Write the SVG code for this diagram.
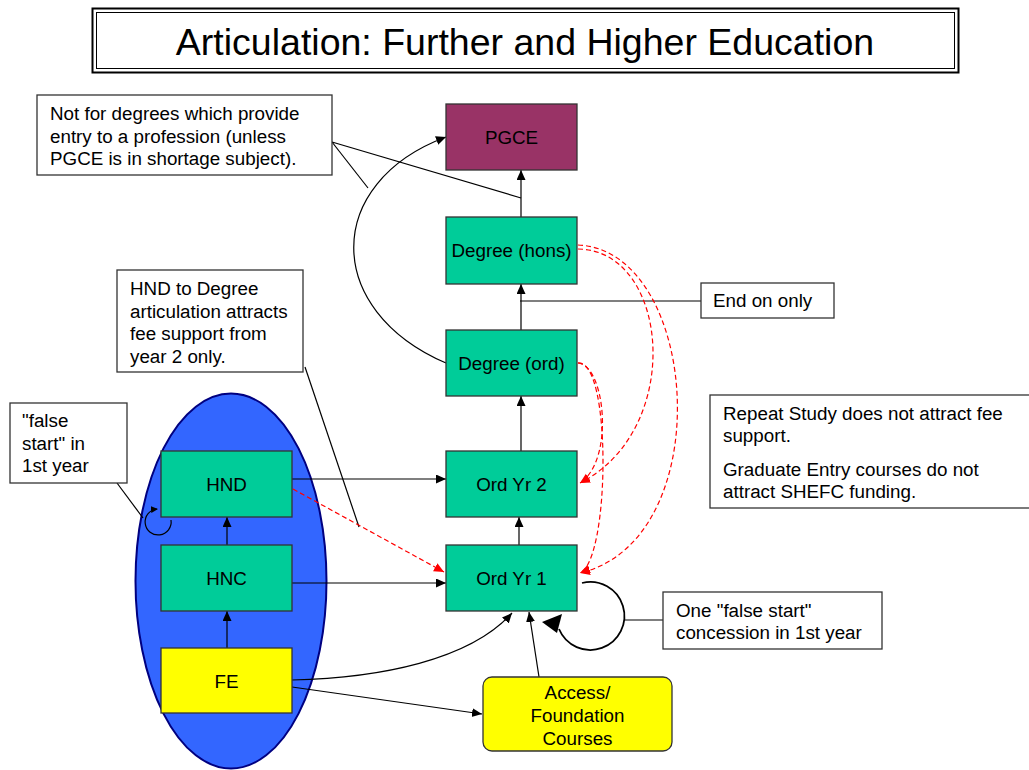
<svg xmlns="http://www.w3.org/2000/svg" width="1029" height="770" viewBox="0 0 1029 770">
<style>
text{font-family:"Liberation Sans",Arial,sans-serif;font-size:18.8px;fill:#000}
.title{font-size:37.5px}
.c{text-anchor:middle}
.box{stroke:#333;stroke-width:1.3}
.teal{fill:#00CC99}
.note{fill:#fff;stroke:#333;stroke-width:1.3}
.ln{fill:none;stroke:#000;stroke-width:1.2}
.red{fill:none;stroke:#FF0000;stroke-width:1.2;stroke-dasharray:5 3}
</style>
<defs>
<marker id="ah" markerUnits="userSpaceOnUse" markerWidth="11" markerHeight="10" refX="10" refY="4.5" orient="auto"><path d="M0,0 L10,4.5 L0,9 z" fill="#000"/></marker>
<marker id="ahr" markerUnits="userSpaceOnUse" markerWidth="11" markerHeight="10" refX="10" refY="4.5" orient="auto"><path d="M0,0 L10,4.5 L0,9 z" fill="#FF0000"/></marker>
<marker id="ahs" markerUnits="userSpaceOnUse" markerWidth="8" markerHeight="8" refX="6" refY="3.5" orient="auto"><path d="M0,0 L7,3.5 L0,7 z" fill="#000"/></marker>
</defs>
<rect width="1029" height="770" fill="#fff"/>

<g id="title">
<rect x="92.5" y="8.5" width="866" height="64" fill="#fff" stroke="#000" stroke-width="2"/>
<rect x="96.5" y="12.5" width="858" height="56" fill="none" stroke="#000" stroke-width="1"/>
<text class="title c" x="525" y="55">Articulation: Further and Higher Education</text>
</g>

<g id="ellipse-group">
<ellipse cx="231" cy="581" rx="95.5" ry="187.5" fill="#3366FF" stroke="#000080" stroke-width="2"/>
</g>

<g id="connectors">
<line class="ln" x1="521" y1="217" x2="521" y2="170" marker-end="url(#ah)"/>
<line class="ln" x1="521" y1="330" x2="521" y2="284" marker-end="url(#ah)"/>
<line class="ln" x1="521" y1="451" x2="521" y2="396" marker-end="url(#ah)"/>
<line class="ln" x1="519" y1="545" x2="519" y2="517" marker-end="url(#ah)"/>
<line class="ln" x1="227" y1="545" x2="227" y2="517" marker-end="url(#ah)"/>
<line class="ln" x1="227" y1="648" x2="227" y2="611" marker-end="url(#ah)"/>
<line class="ln" x1="292" y1="479" x2="446" y2="479" marker-end="url(#ah)"/>
<line class="ln" x1="292" y1="583" x2="446" y2="583" marker-end="url(#ah)"/>
<path class="ln" d="M292,680 C380,678 470,660 512,613" marker-end="url(#ah)"/>
<line class="ln" x1="292" y1="687" x2="482" y2="714" marker-end="url(#ah)"/>
<line class="ln" x1="539" y1="677" x2="529" y2="612" marker-end="url(#ah)"/>
<path class="ln" d="M446,363 C323,310 323,183 446,137" marker-end="url(#ah)"/>
<line class="ln" x1="520" y1="301" x2="701" y2="301"/>
<line class="ln" x1="332" y1="142" x2="368" y2="188"/>
<line class="ln" x1="332" y1="142" x2="521" y2="198"/>
<line class="ln" x1="305" y1="367" x2="359" y2="527"/>
<line class="ln" x1="117" y1="483" x2="143" y2="518"/>
<path class="ln" d="M171,520 A13,13 0 1 1 157,509" marker-end="url(#ahs)"/>
<path d="M582,583 A34,34 0 1 1 559,629" fill="none" stroke="#000" stroke-width="1.8"/>
<polygon points="542,622 562,614 557,633" fill="#000"/>
<line class="ln" x1="624" y1="620" x2="663" y2="620"/>
<path class="red" d="M578,249 C670,250 685,430 580,483" marker-end="url(#ahr)"/>
<path class="red" d="M578,245 C700,250 720,540 580,573" marker-end="url(#ahr)"/>
<path class="red" d="M578,363 C605,365 615,460 580,483" marker-end="url(#ahr)"/>
<path class="red" d="M578,363 C612,360 610,560 580,573" marker-end="url(#ahr)"/>
<line class="red" x1="293" y1="489" x2="444" y2="572" marker-end="url(#ahr)"/>
</g>

<g id="pgce"><rect class="box" x="446" y="104" width="131" height="66" fill="#993366"/><text class="c" x="511.5" y="144">PGCE</text></g>
<g id="degree-hons"><rect class="box teal" x="446" y="217" width="131" height="67"/><text class="c" x="511.5" y="257">Degree (hons)</text></g>
<g id="degree-ord"><rect class="box teal" x="446" y="330" width="131" height="66"/><text class="c" x="511.5" y="370">Degree (ord)</text></g>
<g id="ord-yr2"><rect class="box teal" x="446" y="451" width="131" height="66"/><text class="c" x="511.5" y="491">Ord Yr 2</text></g>
<g id="ord-yr1"><rect class="box teal" x="446" y="545" width="131" height="66"/><text class="c" x="511.5" y="585">Ord Yr 1</text></g>
<g id="hnd"><rect class="box teal" x="161" y="451" width="131" height="66"/><text class="c" x="226.5" y="491">HND</text></g>
<g id="hnc"><rect class="box teal" x="161" y="545" width="131" height="66"/><text class="c" x="226.5" y="585">HNC</text></g>
<g id="fe"><rect class="box" x="161" y="648" width="131" height="65" fill="#FFFF00"/><text class="c" x="226.5" y="688">FE</text></g>
<g id="access"><rect class="box" x="483" y="677" width="189" height="74" rx="9" fill="#FFFF00"/>
<text class="c" x="577.5" y="699">Access/</text><text class="c" x="577.5" y="722">Foundation</text><text class="c" x="577.5" y="745">Courses</text></g>

<g id="note-pgce"><rect class="note" x="37" y="95" width="295" height="80"/>
<text x="50" y="120">Not for degrees which provide</text><text x="50" y="142.5">entry to a profession (unless</text><text x="50" y="165">PGCE is in shortage subject).</text></g>
<g id="note-hnd"><rect class="note" x="117" y="270" width="186" height="102"/>
<text x="130" y="295">HND to Degree</text><text x="130" y="317.5">articulation attracts</text><text x="130" y="340">fee support from</text><text x="130" y="362.5">year 2 only.</text></g>
<g id="note-false"><rect class="note" x="10" y="403" width="117" height="80"/>
<text x="22" y="427">"false</text><text x="22" y="449.5">start" in</text><text x="22" y="472">1st year</text></g>
<g id="note-end"><rect class="note" x="701" y="283" width="133" height="35"/><text x="713" y="307">End on only</text></g>
<g id="note-repeat"><rect class="note" x="710" y="395" width="330" height="113"/>
<text x="723" y="420">Repeat Study does not attract fee</text><text x="723" y="442">support.</text>
<text x="723" y="476">Graduate Entry courses do not</text><text x="723" y="498">attract SHEFC funding.</text></g>
<g id="note-one"><rect class="note" x="663" y="592" width="219" height="57"/>
<text x="676" y="617">One "false start"</text><text x="676" y="639">concession in 1st year</text></g>
</svg>
